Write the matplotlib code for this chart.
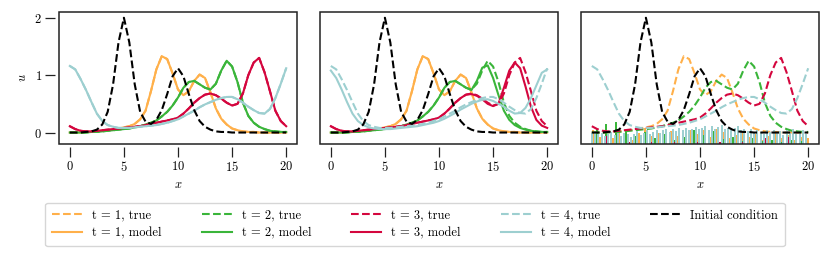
import numpy as np
import matplotlib
matplotlib.use("Agg")
import matplotlib.pyplot as plt
from matplotlib.patches import Rectangle

plt.rcParams['font.family'] = ['cmr10', 'DejaVu Serif']
plt.rcParams['mathtext.fontset'] = 'cm'
plt.rcParams['axes.formatter.use_mathtext'] = True
plt.rcParams['font.size'] = 9

# grid x = 0, 0.5, ..., 20
x = np.linspace(0, 20, 41)

# initial condition
u0 = [0.00, 0.00, 0.00, 0.01, 0.02, 0.05, 0.14, 0.36, 0.84, 1.57, 2.00, 1.57, 0.84, 0.36,
      0.19, 0.15, 0.22, 0.39, 0.67, 0.98, 1.12, 0.98, 0.67, 0.39, 0.20, 0.10, 0.05, 0.02,
      0.01, 0.01, 0.00, 0.00, 0.00, 0.00, 0.00, 0.00, 0.00, 0.00, 0.00, 0.00, 0.00]

# true solution at t = 1..4
u1_true = [0.00, 0.00, 0.00, 0.01, 0.01, 0.02, 0.03, 0.04, 0.05, 0.07, 0.09, 0.11, 0.15, 0.23,
           0.38, 0.72, 1.10, 1.33, 1.28, 1.03, 0.75, 0.65, 0.72, 0.90, 1.01, 0.95, 0.70, 0.42,
           0.24, 0.14, 0.07, 0.04, 0.02, 0.01, 0.01, 0.00, 0.00, 0.00, 0.00, 0.00, 0.00]
u2_true = [0.00, 0.00, 0.00, 0.00, 0.01, 0.01, 0.02, 0.03, 0.04, 0.05, 0.06, 0.07, 0.09, 0.11,
           0.14, 0.17, 0.21, 0.28, 0.36, 0.47, 0.61, 0.78, 0.88, 0.90, 0.84, 0.78, 0.75, 0.85,
           1.08, 1.25, 1.15, 0.88, 0.52, 0.29, 0.17, 0.10, 0.06, 0.03, 0.02, 0.01, 0.01]
u3_true = [0.11, 0.06, 0.03, 0.02, 0.02, 0.03, 0.04, 0.05, 0.06, 0.07, 0.08, 0.09, 0.10, 0.11,
           0.13, 0.15, 0.17, 0.19, 0.21, 0.23, 0.26, 0.33, 0.42, 0.52, 0.60, 0.66, 0.68, 0.65,
           0.59, 0.52, 0.47, 0.50, 0.68, 1.00, 1.22, 1.30, 1.05, 0.72, 0.38, 0.20, 0.11]
u4_true = [1.16, 1.10, 0.93, 0.74, 0.53, 0.33, 0.20, 0.13, 0.10, 0.08, 0.08, 0.08, 0.09, 0.10,
           0.11, 0.12, 0.13, 0.15, 0.17, 0.20, 0.23, 0.28, 0.33, 0.38, 0.44, 0.49, 0.53, 0.57,
           0.60, 0.62, 0.62, 0.58, 0.52, 0.45, 0.39, 0.34, 0.33, 0.41, 0.60, 0.85, 1.12]

# model, panel 2 (slightly off)
u1_m2 = u1_true
u2_m2 = [0.00, 0.00, 0.00, 0.00, 0.01, 0.01, 0.02, 0.03, 0.04, 0.05, 0.06, 0.07, 0.09, 0.11,
         0.14, 0.17, 0.21, 0.28, 0.36, 0.47, 0.61, 0.78, 0.88, 0.90, 0.84, 0.78, 0.74, 0.90,
         1.13, 1.17, 0.95, 0.65, 0.38, 0.22, 0.13, 0.08, 0.05, 0.03, 0.02, 0.01, 0.01]
u3_m2 = [0.11, 0.06, 0.03, 0.02, 0.02, 0.03, 0.04, 0.05, 0.06, 0.07, 0.08, 0.09, 0.10, 0.11,
         0.13, 0.15, 0.17, 0.19, 0.21, 0.23, 0.26, 0.33, 0.42, 0.52, 0.60, 0.66, 0.67, 0.64,
         0.58, 0.50, 0.46, 0.50, 0.78, 1.08, 1.22, 1.12, 0.80, 0.45, 0.22, 0.12, 0.08]
u4_m2 = [1.08, 0.95, 0.75, 0.53, 0.33, 0.20, 0.13, 0.09, 0.07, 0.06, 0.06, 0.06, 0.07, 0.08,
         0.09, 0.10, 0.11, 0.13, 0.15, 0.17, 0.20, 0.24, 0.29, 0.34, 0.40, 0.45, 0.50, 0.54,
         0.57, 0.58, 0.55, 0.50, 0.45, 0.38, 0.33, 0.34, 0.43, 0.60, 0.82, 1.04, 1.10]

# model, panel 3: spikes (heights of the erratic prediction)
spk4 = [-0.03, 0.00, -0.05, -0.02, -0.08, -0.04, -0.01, -0.06, -0.03, -0.07, -0.02,
        -0.05, -0.10, -0.04, 0.01, -0.06, -0.02, 0.02, -0.04, 0.00, 0.03,
        -0.03, 0.02, 0.04, -0.01, 0.05, 0.01, 0.06, 0.03, 0.07, 0.02, 0.05, 0.08, 0.04,
        0.06, 0.09, 0.03, 0.10, 0.05, 0.08, 0.11, 0.04, 0.07, 0.02, 0.06, 0.09, 0.03,
        0.05, 0.01, 0.04, -0.02, 0.03, 0.00, -0.04, 0.02, -0.01, 0.03,
        -0.03, 0.01, -0.06, 0.02, -0.02, 0.04, -0.05, 0.00, 0.03, -0.04]
spk1 = [0.02, -0.10, -0.04, -0.12, 0.00, -0.06, -0.14, -0.03, 0.06, -0.08, -0.02, -0.11,
        0.01, -0.07, -0.13, 0.03, -0.05, 0.02, -0.09, 0.04, -0.01, -0.12, -0.06, 0.00,
        -0.10, -0.04, -0.15, -0.08, -0.02, -0.12, -0.06, -0.14, -0.09, -0.11]
spk2 = [0.05, 0.13, 0.16, 0.02, -0.08, 0.00, -0.12, -0.05, -0.15, -0.10, 0.03, -0.06,
        0.01, -0.13, -0.09, -0.16, -0.12, -0.17, -0.14, -0.18, -0.15, -0.17]
spk3 = [-0.12, -0.08, -0.17, -0.19, -0.18, -0.19, -0.17, -0.19, -0.18, -0.19, -0.17,
        -0.18, -0.19, -0.18, -0.16, -0.12, -0.14, -0.10, -0.13]
spk_start = [0.15, 0.45, 0.3, 0.0]
spk_step = [0.6, 0.9, 1.05, 0.3]

colors = ['#ffb04a', '#3ab53a', '#d4063e', '#9dcfd0']
trues = [u1_true, u2_true, u3_true, u4_true]
models = [[u1_true, u2_true, u3_true, u4_true],
          [u1_m2, u2_m2, u3_m2, u4_m2]]
spikes = [spk1, spk2, spk3, spk4]

W, H = 830, 258
fig = plt.figure(figsize=(W / 100, H / 100), dpi=100)
lefts = [59, 320, 581]
axes = []
for i, l in enumerate(lefts):
    ax = fig.add_axes([l / W, 1 - 144 / H, 238 / W, 132 / H])
    axes.append(ax)
    for t in range(4):
        ax.plot(x, trues[t], '--', color=colors[t], lw=1.5, label=f't = {t+1}, true')
        if i < 2:
            ax.plot(x, models[i][t], '-', color=colors[t], lw=1.5, label=f't = {t+1}, model')
        else:
            h = np.array(spikes[t])
            xs = spk_start[t] + spk_step[t] * np.arange(len(h))
            xx = np.repeat(xs, 3)
            yy = np.column_stack([np.full_like(h, -1.0), h, np.full_like(h, -1.0)]).ravel()
            ax.plot(xx, yy, '-', color=colors[t], lw=1.2)
    ax.plot(x, u0, '--', color='black', lw=1.5, label='Initial condition')
    ax.set_xlim(-1, 21)
    ax.set_ylim(-0.2, 2.1)
    ax.set_xticks([0, 5, 10, 15, 20])
    for s in ax.spines.values():
        s.set_visible(False)
    ax.spines['bottom'].set_position(('outward', 2.2))
    ax.spines['left'].set_position(('outward', 2.8))
    ax.add_patch(Rectangle((0, 0), 1, 1, transform=ax.transAxes, fill=False,
                           lw=1.1, ec='#222222', clip_on=False, zorder=5))
    ax.tick_params(direction='out', length=7, width=0.9, color='#222222', pad=2.5)
    ax.set_xlabel('$x$', labelpad=3)
    if i == 0:
        ax.set_yticks([0, 1, 2])
        ax.set_ylabel('$u$', labelpad=4)
    else:
        ax.tick_params(left=False, labelleft=False)

handles, labels = axes[0].get_legend_handles_labels()
fig.legend(handles, labels, loc='center', bbox_to_anchor=(0.5, 0.13), ncol=5,
           handlelength=2.4, handletextpad=0.8, columnspacing=3.2, fontsize=9,
           borderpad=0.55, labelspacing=0.45)

fig.savefig('out.png', dpi=100)
